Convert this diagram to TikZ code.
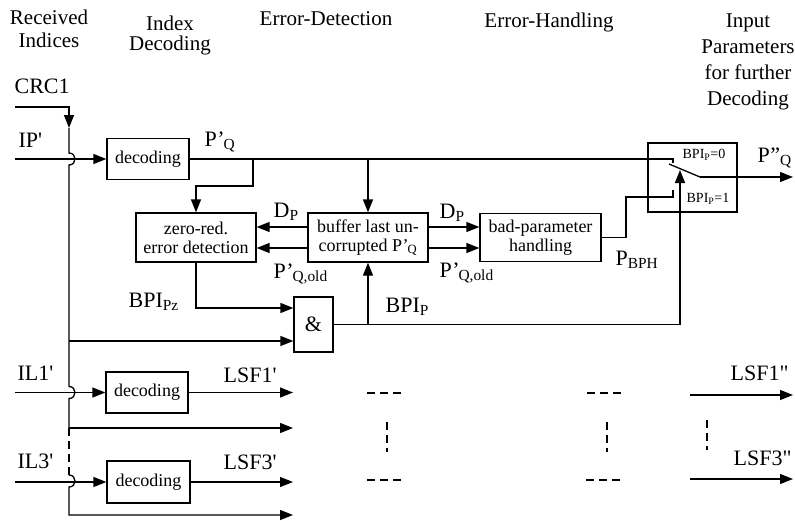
\documentclass[tikz,border=0pt]{standalone}
\usepackage{fontspec}
\setmainfont{Liberation Serif}
\usetikzlibrary{arrows.meta}
\newcommand\Pq[1]{P\kern0.02em\textquoteright\kern-0.05em\textsubscript{#1}}
\newcommand\Pqq[1]{P\kern0.02em\textquotedblright\textsubscript{#1}}
\begin{document}
\begin{tikzpicture}[x=1pt,y=-1pt,
  line width=1.3pt,
  arr/.style={-{Triangle[length=13pt,width=10pt]}},
  box/.style={draw,inner sep=0pt,align=center,font=\fontsize{18}{19}\selectfont},
  lbl/.style={anchor=base west,inner sep=0pt,font=\fontsize{22}{24}\selectfont},
  head/.style={anchor=north,inner sep=0pt,align=center,font=\fontsize{21}{23}\selectfont},
  sml/.style={anchor=base west,inner sep=0pt,font=\fontsize{14}{16}\selectfont},
  dsh/.style={dash pattern=on 8pt off 5pt},
]
\useasboundingbox (0,0) rectangle (795,520);

% headers
\node[head] (h1) at (49,9) {Received\\Indices};
\node[head,font=\fontsize{21}{20}\selectfont] (h2) at (170,15) {Index\\Decoding};
\node[head] (h3) at (326,11) {Error-Detection};
\node[head] (h4) at (549,12) {Error-Handling};
\node[head,font=\fontsize{21}{26}\selectfont] (h5) at (748,13) {Input\\Parameters\\for further\\Decoding};

% boxes
\node[box,minimum width=82pt,minimum height=41pt] (dec1) at (148,159) {decoding};
\node[box,minimum width=120pt,minimum height=49pt] (zr) at (196,237.5) {zero-red.\\error detection};
\node[box,minimum width=120pt,minimum height=49pt] (buf) at (368,237.5) {buffer last un-\\corrupted \Pq{Q}};
\node[box,minimum width=121pt,minimum height=48pt] (bad) at (540.5,237.5) {bad-parameter\\handling};
\node[box,minimum width=39pt,minimum height=55pt,font=\fontsize{22}{24}\selectfont] (and) at (313.5,324.5) {\&};
\node[draw,minimum width=89pt,minimum height=69pt,inner sep=0pt] (sw) at (692.5,177.5) {};
\node[box,minimum width=82pt,minimum height=41pt] (dec2) at (147,392.5) {decoding};
\node[box,minimum width=83pt,minimum height=42pt] (dec3) at (148.5,482) {decoding};

% labels
\node[lbl] (crc) at (14,93) {CRC1};
\node[lbl] (ip) at (18,147) {IP\textquotesingle};
\node[lbl] (pq) at (204,146) {\Pq{Q}};
\node[lbl] (dpl) at (273,217) {D\textsubscript{P}};
\node[lbl] (pql) at (273,278) {\Pq{Q,old}};
\node[lbl] (bpz) at (128,307) {BPI\textsubscript{Pz}};
\node[lbl] (dpr) at (439,218) {D\textsubscript{P}};
\node[lbl] (pqr) at (439,277) {\Pq{Q,old}};
\node[lbl] (bpi) at (385,312) {BPI\textsubscript{P}};
\node[lbl] (pbph) at (615,265) {P\textsubscript{BPH}};
\node[lbl] (pqq) at (757,162) {\Pqq{Q}};
\node[sml] (s0) at (682,158) {BPI\textsubscript{P}=0};
\node[sml] (s1) at (686,202) {BPI\textsubscript{P}=1};
\node[lbl] (il1) at (17,380) {IL1\textquotesingle};
\node[lbl] (lsf1) at (223,382) {LSF1\textquotesingle};
\node[lbl] (il3) at (17,468) {IL3\textquotesingle};
\node[lbl] (lsf3) at (223,469) {LSF3\textquotesingle};
\node[lbl] (lsf1o) at (730,380) {LSF1\textquotedbl};
\node[lbl] (lsf3o) at (733,465) {LSF3\textquotedbl};

% coordinates
\coordinate (crcin) at (15,107);
\coordinate (crcarr) at (69,128);
\coordinate (ipin) at (15,159);
\coordinate (il1in) at (15,392.5);
\coordinate (il3in) at (15,482);
\coordinate (c341) at (69,341);
\coordinate (c428) at (69,428);
\coordinate (c475) at (69,475);
\coordinate (c515) at (69,515);
\coordinate (z308) at (196,308);
\coordinate (tap1) at (253,159);
\coordinate (tap2) at (368,159);
\coordinate (cont0) at (673,159);
\coordinate (cont1) at (673,197);
\coordinate (lever) at (669,164);
\coordinate (pivot) at (700,177);
\coordinate (outq) at (793,177);
\coordinate (ctrl) at (680,170);
\coordinate (andtap) at (368,324.5);
\coordinate (o1) at (293,392.5);
\coordinate (o2) at (293,428);
\coordinate (o3) at (293,482);
\coordinate (o4) at (293,515);

% CRC line
\draw[arr] (crcin) -| (crcarr);
\draw (crcarr) -- (69,153) .. controls (77,153) and (77,165) .. (69,165)
  -- (69,386.5) .. controls (77,386.5) and (77,398.5) .. (69,398.5) -- (c428);
\draw[dsh] (c428) -- (c475);
\draw[arr] (c475) .. controls (77,475) and (77,487) .. (69,487) -- (c515) -- (o4);
\draw[arr] (c341) -- (c341 -| and.west);
\draw[arr] (c428) -- (o2);

% IP path
\draw[arr] (ipin) -- (dec1.west);
\draw (dec1.east) -- (cont0) -- ++(0,4);
\draw[arr] (tap1) -- (253,186) -| (zr.north);
\draw[arr] (tap2) -- (buf.north);
\draw[arr] ([yshift=10.5pt]buf.west) -- ([yshift=10.5pt]zr.east);
\draw[arr] ([yshift=-10.5pt]buf.west) -- ([yshift=-10.5pt]zr.east);
\draw[arr] ([yshift=10.5pt]buf.east) -- ([yshift=10.5pt]bad.west);
\draw[arr] ([yshift=-10.5pt]buf.east) -- ([yshift=-10.5pt]bad.west);
\draw[arr] (zr.south) -- (z308) -- (z308 -| and.west);
\draw (bad.east) -- (626,237.5) -- (626,197) -- (cont1) -- ++(0,-7);
\draw (lever) -- (pivot);
\draw[arr] (pivot) -- (outq);
\draw[arr] (and.east) -| (ctrl);
\draw[arr] (andtap) -- (buf.south);

% LSF paths
\draw[arr] (il1in) -- (dec2.west);
\draw[arr] (dec2.east) -- (o1);
\draw[arr] (il3in) -- (dec3.west);
\draw[arr] (dec3.east) -- (o3);

% dashes
\draw[dsh] (367,393) -- (402,393);
\draw[dsh] (367,480) -- (402,480);
\draw[dsh] (387,422) -- (387,452);
\draw[dsh] (587,393) -- (621,393);
\draw[dsh] (586,480) -- (620,480);
\draw[dsh] (607,422) -- (607,452);
\draw[dsh] (707,420) -- (707,450);
\coordinate (r1) at (690,395);
\coordinate (r1e) at (793,395);
\coordinate (r3) at (690,479);
\coordinate (r3e) at (793,479);
\draw[arr] (r1) -- (r1e);
\draw[arr] (r3) -- (r3e);
\end{tikzpicture}
\end{document}
